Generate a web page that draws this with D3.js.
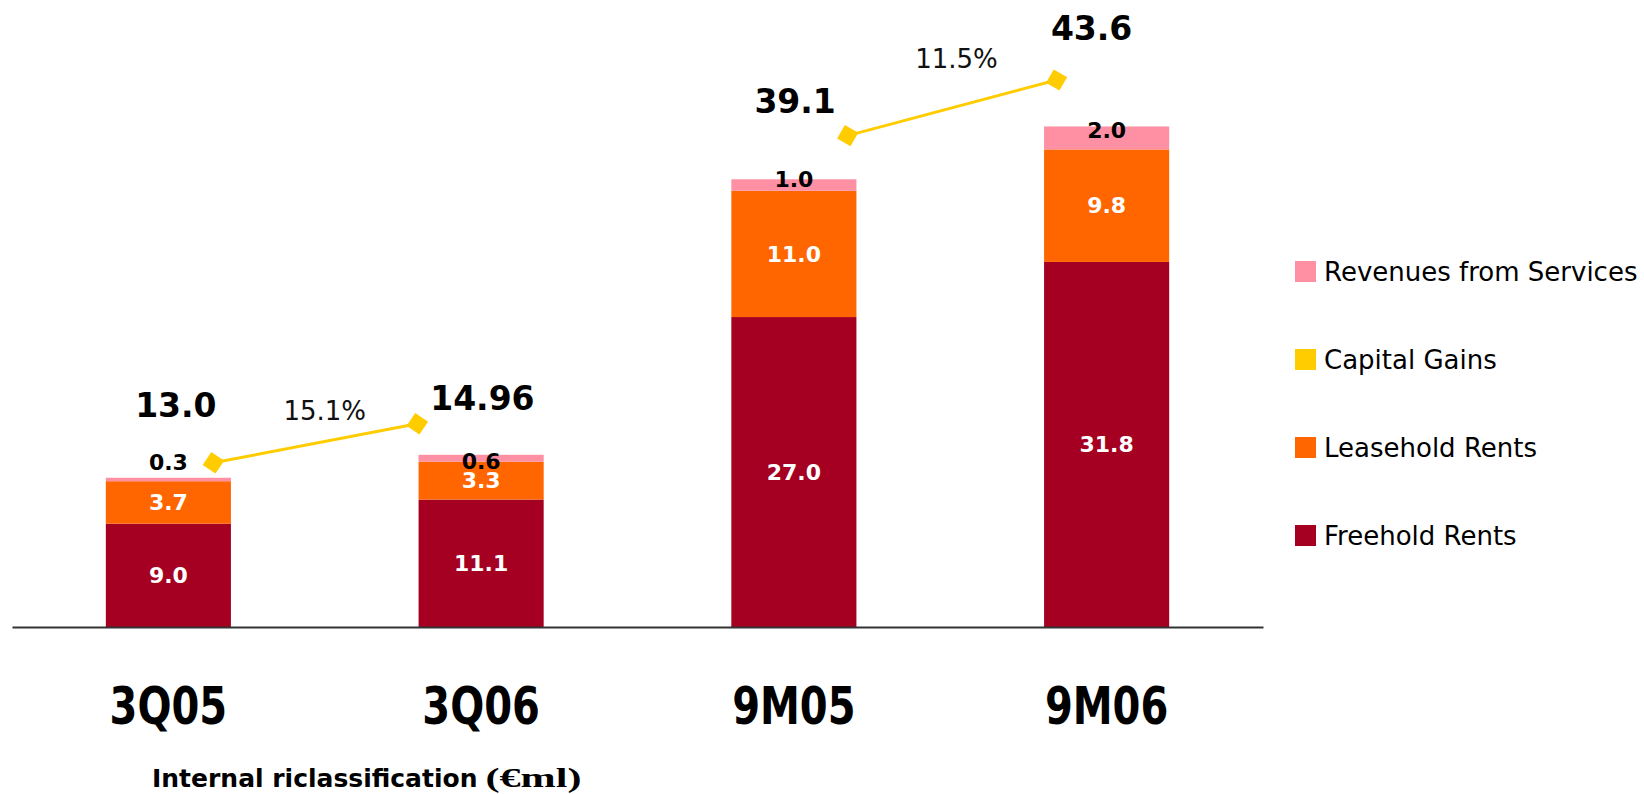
<!DOCTYPE html>
<html>
<head>
<meta charset="utf-8">
<script src="https://cdn.jsdelivr.net/npm/d3@7/dist/d3.min.js"></script>
<style>
  html, body { margin: 0; padding: 0; background: #fff; }
  svg { display: block; }
</style>
</head>
<body>
<svg id="chart" width="1644" height="794"></svg>
<script>
// ---------- data ----------
const categories = ["3Q05", "3Q06", "9M05", "9M06"];
const freeholdRents = [9.0, 11.1, 27.0, 31.8];
const leaseholdRents = [3.7, 3.3, 11.0, 9.8];
const servicesRevenues = [0.3, 0.6, 1.0, 2.0];
const totalLabels = ["13.0", "14.96", "39.1", "43.6"];
// value level (in €ml) at which each total / services label sits
const totalLabelLevel = [18.3, 18.9, 44.8, 51.1];
const totalLabelShift = [0.06, 0.01, 0.01, -0.12];   // fraction of bar width
const servicesLabelLevel = [13.7, 13.8, 38.3, 42.6];
// Capital gains growth line (two segments)
const capitalGainsCats = [["3Q05", "3Q06"], ["9M05", "9M06"]];
const capitalGainsShift = [[0.36, -0.51], [0.43, -0.40]];
const capitalGainsValues = [[14.3, 17.7], [42.8, 47.65]];
const growthLabels = ["15.1%", "11.5%"];
const growthLabelLevel = [18.0, 48.7];
const growthLabelShift = [0.0, 0.05];
const legendNames = ["Revenues from Services", "Capital Gains", "Leasehold Rents", "Freehold Rents"];
const seriesKeys = ["freehold", "leasehold", "services"];
const colors = { freehold: "#A50021", leasehold: "#FF6600", services: "#FF8FA2", capital: "#FFCC00" };
const legendColors = [colors.services, colors.capital, colors.leasehold, colors.freehold];
const titleMain = "Internal riclassification";
const titleUnit = "(€ml)";

// ---------- scales ----------
const svg = d3.select("#chart");
const x = d3.scaleBand().domain(categories).range([12, 1263]).paddingInner(0.6).paddingOuter(0.3);
const y = d3.scaleLinear().domain([0, 50]).range([627, 53]);
const bw = x.bandwidth();
const cx = c => x(c) + bw / 2;

const rows = categories.map((c, i) => ({
  cat: c, freehold: freeholdRents[i], leasehold: leaseholdRents[i], services: servicesRevenues[i]
}));
const stacked = d3.stack().keys(seriesKeys)(rows);

// ---------- bars ----------
const gBars = svg.append("g");
stacked.forEach(layer => {
  gBars.selectAll(null).data(layer).join("rect")
    .attr("x", d => x(d.data.cat))
    .attr("width", bw)
    .attr("y", d => y(d[1]))
    .attr("height", d => y(d[0]) - y(d[1]))
    .attr("fill", colors[layer.key]);
});

// white labels inside freehold & leasehold
const font = "'DejaVu Sans', Verdana, sans-serif";
stacked.slice(0, 2).forEach(layer => {
  svg.append("g").selectAll(null).data(layer).join("text")
    .attr("x", d => cx(d.data.cat))
    .attr("y", d => (y(d[0]) + y(d[1])) / 2)
    .attr("dy", "0.35em")
    .attr("text-anchor", "middle")
    .attr("font-family", font).attr("font-weight", "bold").attr("font-size", 22)
    .attr("fill", "#fff")
    .text(d => d.data[layer.key].toFixed(1));
});

// services labels (black)
svg.append("g").selectAll(null).data(categories).join("text")
  .attr("x", c => cx(c))
  .attr("y", (c, i) => y(servicesLabelLevel[i]))
  .attr("text-anchor", "middle")
  .attr("font-family", font).attr("font-weight", "bold").attr("font-size", 22)
  .attr("fill", "#000")
  .text((c, i) => servicesRevenues[i].toFixed(1));

// ---------- capital gains line ----------
const gLine = svg.append("g");
capitalGainsCats.forEach((pair, k) => {
  const pts = pair.map((c, j) => [cx(c) + capitalGainsShift[k][j] * bw, y(capitalGainsValues[k][j])]);
  gLine.append("path")
    .attr("d", d3.line()(pts))
    .attr("fill", "none")
    .attr("stroke", colors.capital)
    .attr("stroke-width", 3);
  const ang = Math.atan2(pts[1][1] - pts[0][1], pts[1][0] - pts[0][0]) * 180 / Math.PI;
  gLine.selectAll(null).data(pts).enter().append("path")
    .attr("d", d3.symbol().type(d3.symbolSquare).size(240)())
    .attr("transform", d => `translate(${d[0]},${d[1]}) rotate(${45 + ang})`)
    .attr("fill", colors.capital);
  svg.append("text")
    .attr("x", (cx(pair[0]) + cx(pair[1])) / 2 + growthLabelShift[k] * bw)
    .attr("y", y(growthLabelLevel[k]))
    .attr("text-anchor", "middle")
    .attr("font-family", font).attr("font-size", 26)
    .attr("fill", "#111")
    .text(growthLabels[k]);
});

// totals
svg.append("g").selectAll(null).data(categories).join("text")
  .attr("x", (c, i) => cx(c) + totalLabelShift[i] * bw)
  .attr("y", (c, i) => y(totalLabelLevel[i]))
  .attr("text-anchor", "middle")
  .attr("font-family", font).attr("font-weight", "bold").attr("font-size", 33)
  .attr("fill", "#000")
  .text((c, i) => totalLabels[i]);

// ---------- axis ----------
const gAxis = svg.append("g")
  .attr("transform", `translate(0,${y(0)})`)
  .call(d3.axisBottom(x).tickSize(0).tickSizeOuter(0));
gAxis.select(".domain").attr("stroke", "#333").attr("stroke-width", 2.2);
gAxis.selectAll(".tick text")
  .attr("y", 97).attr("dy", 0)
  .attr("transform", "scale(0.77,1)")
  .attr("font-family", font).attr("font-weight", "bold").attr("font-size", 52)
  .attr("fill", "#000");

// ---------- legend ----------
const gLeg = svg.append("g").attr("transform", "translate(1295,261)");
const li = gLeg.selectAll(null).data(legendNames).join("g")
  .attr("transform", (d, i) => `translate(0,${i * 88})`);
li.append("rect").attr("width", 21).attr("height", 21).attr("fill", (d, i) => legendColors[i]);
li.append("text").attr("x", 29).attr("y", 20)
  .attr("font-family", font).attr("font-size", 26).attr("fill", "#000")
  .text(d => d);

// ---------- title ----------
const t1 = svg.append("text").attr("x", 152).attr("y", 787)
  .attr("font-family", font).attr("font-weight", "bold").attr("font-size", 25).attr("fill", "#000")
  .text(titleMain);
const t1w = t1.node().getComputedTextLength();
svg.append("text").attr("x", 152 + t1w + 8).attr("y", 787)
  .attr("font-family", "'Liberation Serif', 'Times New Roman', serif")
  .attr("font-weight", "bold").attr("font-size", 28).attr("fill", "#000")
  .attr("textLength", 96).attr("lengthAdjust", "spacingAndGlyphs")
  .text(titleUnit);
</script>
</body>
</html>
